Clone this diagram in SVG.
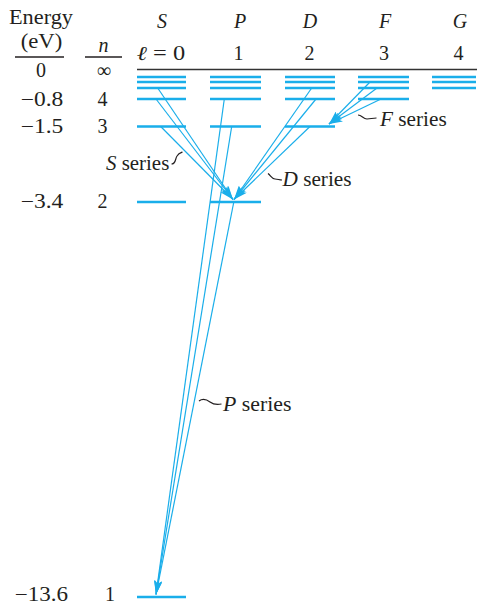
<svg xmlns="http://www.w3.org/2000/svg" width="477" height="605" viewBox="0 0 477 605">
<style>
text{font-family:"Liberation Serif","Times New Roman",serif;font-size:20px;fill:#231f20}
.c{text-anchor:middle}
.i{font-style:italic}
.lv{stroke:#1aaeea;stroke-width:2.7;fill:none}
.tr{stroke:#1aaeea;stroke-width:1.2;fill:none}
.sq{stroke:#231f20;stroke-width:1.2;fill:none}
.rule{stroke:#231f20;stroke-width:1.3}
</style>
<defs>
<marker id="arr" markerUnits="userSpaceOnUse" markerWidth="14" markerHeight="8" viewBox="0 0 14 8" refX="14" refY="4" orient="auto">
<path d="M0,0 L14,4 L0,8 L3.5,4 Z" fill="#1aaeea"/>
</marker>
</defs>
<g id="header">
<text class="c" x="41" y="24" textLength="64" lengthAdjust="spacingAndGlyphs">Energy</text>
<text class="c" x="41.5" y="48" textLength="41.6" lengthAdjust="spacingAndGlyphs">(eV)</text>
<line class="rule" x1="15" y1="57" x2="64" y2="57"/>
<text class="c i" x="103.5" y="52">n</text>
<line class="rule" x1="85" y1="57" x2="122" y2="57"/>
<text class="c" x="104" y="77" font-size="24">∞</text>
<text class="c" x="41" y="77">0</text>
<text class="c i" x="162" y="28">S</text>
<text class="c i" x="240" y="28">P</text>
<text class="c i" x="310" y="28">D</text>
<text class="c i" x="385" y="28">F</text>
<text class="c i" x="460" y="28">G</text>
<text class="c" x="161" y="60" textLength="48.3" lengthAdjust="spacingAndGlyphs"><tspan class="i">ℓ</tspan> = 0</text>
<text class="c" x="238.5" y="60">1</text>
<text class="c" x="309.5" y="60">2</text>
<text class="c" x="384" y="60">3</text>
<text class="c" x="458.5" y="60">4</text>
<line x1="137" y1="69.5" x2="477" y2="69.5" stroke="#333" stroke-width="1.6"/>
</g>
<g id="energy-labels">
<text class="c" x="42" y="106" textLength="42.6" lengthAdjust="spacingAndGlyphs">−0.8</text>
<text class="c" x="102.5" y="106">4</text>
<text class="c" x="42" y="133" textLength="42.6" lengthAdjust="spacingAndGlyphs">−1.5</text>
<text class="c" x="102.5" y="133">3</text>
<text class="c" x="42" y="208" textLength="42.6" lengthAdjust="spacingAndGlyphs">−3.4</text>
<text class="c" x="102.5" y="208">2</text>
<text class="c" x="41.5" y="601" textLength="53.3" lengthAdjust="spacingAndGlyphs">−13.6</text>
<text class="c" x="110" y="601">1</text>
</g>
<g id="level-S">
<path class="lv" d="M137,77H186M137,82H186M137,88H186M137,99H186M137,126.5H186M137,202H186M137,597H186"/>
</g>
<g id="level-P">
<path class="lv" d="M210,77H261M210,82H261M210,88H261M210,99H261M210,126.5H261M210,202H261"/>
</g>
<g id="level-D">
<path class="lv" d="M285,77H335M285,82H335M285,88H335M285,99H335M285,126.5H335"/>
</g>
<g id="level-F">
<path class="lv" d="M358,77H409M358,82H409M358,88H409M358,99H409"/>
</g>
<g id="level-G">
<path class="lv" d="M432,77H476M432,82H476M432,88H476"/>
</g>
<g id="connectors">
<line class="tr" x1="157.7" y1="88" x2="233" y2="199.5" marker-end="url(#arr)"/>
<line class="tr" x1="156" y1="99" x2="233" y2="199.5" marker-end="url(#arr)"/>
<line class="tr" x1="160.7" y1="126.5" x2="233" y2="199.5" marker-end="url(#arr)"/>
<line class="tr" x1="311.7" y1="88" x2="234" y2="199.5" marker-end="url(#arr)"/>
<line class="tr" x1="316" y1="99" x2="234" y2="199.5" marker-end="url(#arr)"/>
<line class="tr" x1="310" y1="126.5" x2="234" y2="199.5" marker-end="url(#arr)"/>
<line class="tr" x1="370" y1="82" x2="329" y2="124" marker-end="url(#arr)"/>
<line class="tr" x1="377" y1="88" x2="329" y2="124" marker-end="url(#arr)"/>
<line class="tr" x1="381" y1="99" x2="329" y2="124" marker-end="url(#arr)"/>
<line class="tr" x1="224.3" y1="99" x2="156" y2="594.5" marker-end="url(#arr)"/>
<line class="tr" x1="231.7" y1="126.5" x2="156" y2="594.5" marker-end="url(#arr)"/>
<line class="tr" x1="233.8" y1="202" x2="156" y2="594.5" marker-end="url(#arr)"/>
</g>
<g id="label-S-series">
<text x="106" y="170" textLength="63.3" lengthAdjust="spacingAndGlyphs"><tspan class="i">S</tspan> series</text>
<path class="sq" d="M171.5,164 C176,164 175,159 177,156 C178.5,153.5 180,153 182.5,152"/>
</g>
<g id="label-D-series">
<path class="sq" d="M268,173.5 C271,176 272,179 275,179 C278,179 279,180 282,180"/>
<text x="282.5" y="186" textLength="69" lengthAdjust="spacingAndGlyphs"><tspan class="i">D</tspan> series</text>
</g>
<g id="label-F-series">
<path class="sq" d="M358,115 C362,115 363,119 367,119 C371,119 372,118 376.5,118"/>
<text x="380" y="126" textLength="66.7" lengthAdjust="spacingAndGlyphs"><tspan class="i">F</tspan> series</text>
</g>
<g id="label-P-series">
<path class="sq" d="M199,401 C203,398 206,399 210,402 C214,405 217,405 221.5,404"/>
<text x="223" y="411" textLength="68.4" lengthAdjust="spacingAndGlyphs"><tspan class="i">P</tspan> series</text>
</g>
</svg>
